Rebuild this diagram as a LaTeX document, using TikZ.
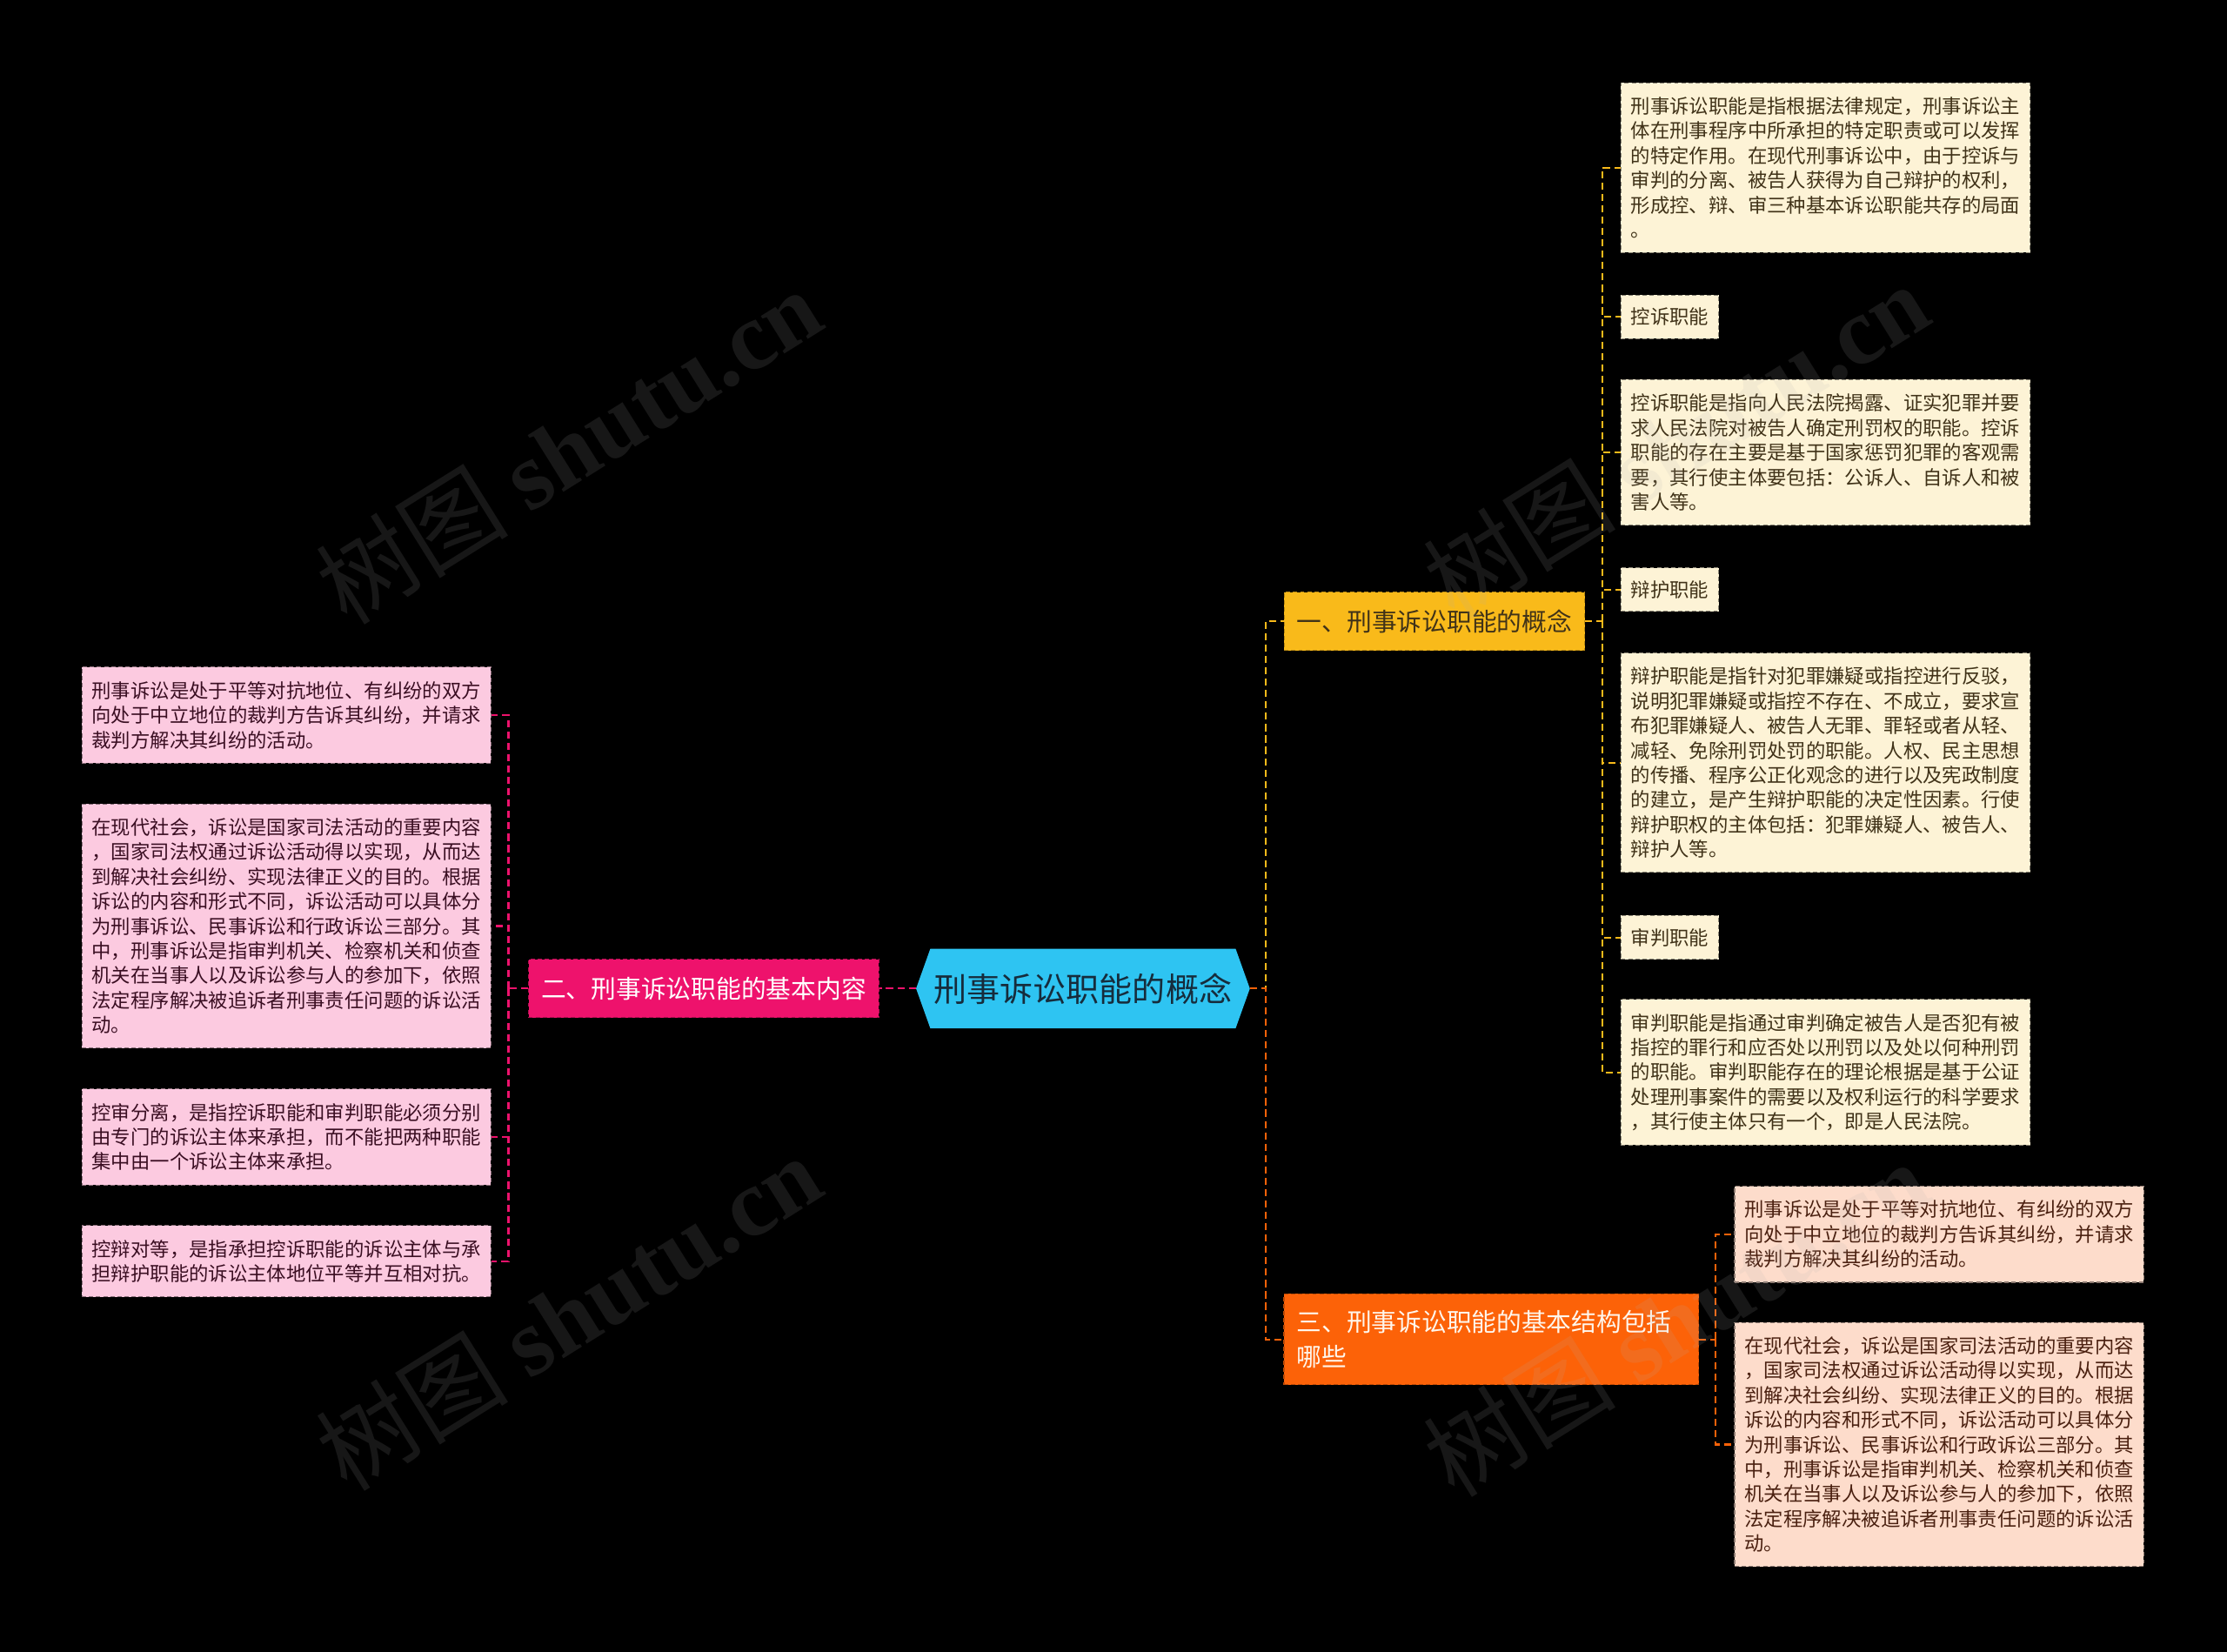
\documentclass[tikz,border=0pt]{standalone}
\usepackage{fontspec}
\setmainfont{Noto Sans CJK SC}
\newfontfamily\wmfont{Liberation Serif}
\definecolor{mmCyan}   {RGB}{46,196,242}
\definecolor{mmAmber}  {RGB}{249,186,26}
\definecolor{mmMagenta}{RGB}{238,18,108}
\definecolor{mmOrange} {RGB}{252,98,8}
\definecolor{mmCream}  {RGB}{253,243,214}
\definecolor{mmPink}   {RGB}{252,202,224}
\definecolor{mmPeach}  {RGB}{253,220,203}
\definecolor{txCream}  {RGB}{64,50,24}
\definecolor{txPink}   {RGB}{58,14,34}
\definecolor{txPeach}  {RGB}{74,32,16}
\definecolor{txRoot}   {RGB}{22,44,60}
\definecolor{txLight}  {RGB}{255,246,236}

\begin{document}
\begin{tikzpicture}[x=1pt, y=-1pt,
    link/.style={line width=1.3pt, dash pattern=on 5pt off 3pt},
    leaf/.style={line width=0.7pt, dash pattern=on 3pt off 2pt, inner xsep=7pt, inner ysep=10pt, align=left, font=\fontsize{13.7}{17.4}\selectfont},
    wide/.style={text width=274pt},
    creamleaf/.style={leaf, fill=mmCream, draw=mmCream!55!black, text=txCream, anchor=west},
    pinkleaf/.style={leaf, fill=mmPink, draw=mmPink!55!black, text=txPink, anchor=east, wide},
    peachleaf/.style={leaf, fill=mmPeach, draw=mmPeach!55!black, text=txPeach, anchor=west, wide},
    branch/.style={line width=0.7pt, dash pattern=on 3pt off 2pt, inner xsep=9pt, minimum height=41pt, font=\fontsize{17.6}{24}\selectfont},
    wmark/.style={rotate=32, text=gray!60, opacity=0.13, font=\fontsize{68}{68}\selectfont}]
    \useasboundingbox (0,0) rectangle (1568,1163);
    \fill[black] (0,0) rectangle (1568,1163);

    \fill[mmCyan] (645,696) -- (655,668) -- (870,668) -- (880,696) -- (870,724) -- (655,724) -- cycle;
    \node[minimum width=235pt, minimum height=56pt, inner sep=0pt, text=txRoot, font=\fontsize{23.3}{28}\selectfont] (root) at (762.5,696) {刑事诉讼职能的概念};

    \node[branch, fill=mmAmber, draw=mmAmber!75!black, text=txCream] (b1) at (1010,437.5) {一、刑事诉讼职能的概念};
    \node[branch, fill=mmMagenta, draw=mmMagenta!75!black, text=white] (b2) at (495.5,696) {二、刑事诉讼职能的基本内容};
    \node[branch, fill=mmOrange, draw=mmOrange!75!black, text=txLight, align=left, text width=274pt, minimum height=64pt] (b3) at (1050,943) {三、刑事诉讼职能的基本结构包括\\哪些};

    \node[creamleaf, wide] (l1a) at (1141,118) {刑事诉讼职能是指根据法律规定，刑事诉讼主\\体在刑事程序中所承担的特定职责或可以发挥\\的特定作用。在现代刑事诉讼中，由于控诉与\\审判的分离、被告人获得为自己辩护的权利，\\形成控、辩、审三种基本诉讼职能共存的局面\\。};
    \node[creamleaf, inner ysep=9pt] (l1b) at (1141,223) {控诉职能};
    \node[creamleaf, wide] (l1c) at (1141,318.5) {控诉职能是指向人民法院揭露、证实犯罪并要\\求人民法院对被告人确定刑罚权的职能。控诉\\职能的存在主要是基于国家惩罚犯罪的客观需\\要，其行使主体要包括：公诉人、自诉人和被\\害人等。};
    \node[creamleaf, inner ysep=9pt] (l1d) at (1141,415) {辩护职能};
    \node[creamleaf, wide] (l1e) at (1141,537) {辩护职能是指针对犯罪嫌疑或指控进行反驳，\\说明犯罪嫌疑或指控不存在、不成立，要求宣\\布犯罪嫌疑人、被告人无罪、罪轻或者从轻、\\减轻、免除刑罚处罚的职能。人权、民主思想\\的传播、程序公正化观念的进行以及宪政制度\\的建立，是产生辩护职能的决定性因素。行使\\辩护职权的主体包括：犯罪嫌疑人、被告人、\\辩护人等。};
    \node[creamleaf, inner ysep=9pt] (l1f) at (1141,660) {审判职能};
    \node[creamleaf, wide] (l1g) at (1141,755) {审判职能是指通过审判确定被告人是否犯有被\\指控的罪行和应否处以刑罚以及处以何种刑罚\\的职能。审判职能存在的理论根据是基于公证\\处理刑事案件的需要以及权利运行的科学要求\\，其行使主体只有一个，即是人民法院。};

    \node[pinkleaf] (l2a) at (346,503.5) {刑事诉讼是处于平等对抗地位、有纠纷的双方\\向处于中立地位的裁判方告诉其纠纷，并请求\\裁判方解决其纠纷的活动。};
    \node[pinkleaf] (l2b) at (346,652) {在现代社会，诉讼是国家司法活动的重要内容\\，国家司法权通过诉讼活动得以实现，从而达\\到解决社会纠纷、实现法律正义的目的。根据\\诉讼的内容和形式不同，诉讼活动可以具体分\\为刑事诉讼、民事诉讼和行政诉讼三部分。其\\中，刑事诉讼是指审判机关、检察机关和侦查\\机关在当事人以及诉讼参与人的参加下，依照\\法定程序解决被追诉者刑事责任问题的诉讼活\\动。};
    \node[pinkleaf] (l2c) at (346,800.5) {控审分离，是指控诉职能和审判职能必须分别\\由专门的诉讼主体来承担，而不能把两种职能\\集中由一个诉讼主体来承担。};
    \node[pinkleaf] (l2d) at (346,888) {控辩对等，是指承担控诉职能的诉讼主体与承\\担辩护职能的诉讼主体地位平等并互相对抗。};

    \node[peachleaf] (l3a) at (1221,869) {刑事诉讼是处于平等对抗地位、有纠纷的双方\\向处于中立地位的裁判方告诉其纠纷，并请求\\裁判方解决其纠纷的活动。};
    \node[peachleaf] (l3b) at (1221,1017) {在现代社会，诉讼是国家司法活动的重要内容\\，国家司法权通过诉讼活动得以实现，从而达\\到解决社会纠纷、实现法律正义的目的。根据\\诉讼的内容和形式不同，诉讼活动可以具体分\\为刑事诉讼、民事诉讼和行政诉讼三部分。其\\中，刑事诉讼是指审判机关、检察机关和侦查\\机关在当事人以及诉讼参与人的参加下，依照\\法定程序解决被追诉者刑事责任问题的诉讼活\\动。};

    \coordinate (rbus) at (891,696);
    \coordinate (lbus) at (358,696);
    \coordinate (bus1) at (1128,437.5);
    \coordinate (bus3) at (1208,943);

    \draw[link, mmAmber] (root.east) -- (rbus) |- (b1.west);
    \draw[link, mmOrange] (root.east) -- (rbus) |- (b3.west);
    \draw[link, mmMagenta] (root.west) -- (b2.east);

    \draw[link, mmAmber] (b1.east) -- (bus1);
    \foreach \n in {l1a,l1b,l1c,l1d,l1e,l1f,l1g}
        \draw[link, mmAmber] (bus1) |- (\n.west);
    \draw[link, mmMagenta] (b2.west) -- (lbus);
    \foreach \n in {l2a,l2b,l2c,l2d}
        \draw[link, mmMagenta] (lbus) |- (\n.east);
    \draw[link, mmOrange] (b3.east) -- (bus3);
    \foreach \n in {l3a,l3b}
        \draw[link, mmOrange] (bus3) |- (\n.west);

    \node[wmark] (wm1) at (400,314) {树图 {\wmfont\bfseries shutu.cn}};
    \node[wmark] (wm2) at (400,924) {树图 {\wmfont\bfseries shutu.cn}};
    \node[wmark] (wm3) at (1180,310) {树图 {\wmfont\bfseries shutu.cn}};
    \node[wmark] (wm4) at (1180,928) {树图 {\wmfont\bfseries shutu.cn}};
\end{tikzpicture}
\end{document}
